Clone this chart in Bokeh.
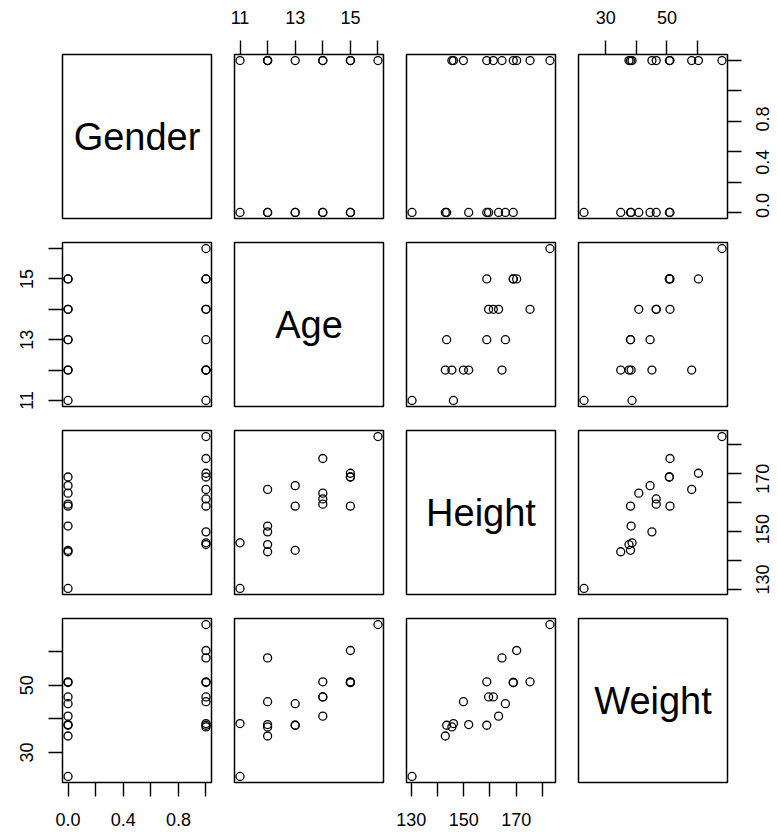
import math
from bokeh.plotting import figure
from bokeh.layouts import column, row
from bokeh.models import Range1d, LinearAxis, FixedTicker
from bokeh.core.properties import value
from bokeh.embed import file_html
from bokeh.resources import INLINE

# Class roster (19 pupils), metric units
gender = [1, 0, 0, 0, 1, 1, 0, 0, 1, 1, 0, 0, 0, 0, 1, 1, 1, 1, 1]
age = [14, 13, 13, 14, 14, 12, 12, 15, 13, 12, 11, 14, 12, 15, 16, 12, 15, 11, 15]
height = [175.3, 143.5, 165.9, 159.5, 161.3, 145.5, 151.9, 158.8, 158.8, 149.9,
          130.3, 163.3, 143.0, 168.9, 182.9, 164.6, 170.2, 146.1, 168.9]
weight = [51.0, 38.1, 44.5, 46.5, 46.5, 37.6, 38.3, 51.0, 38.1, 45.1,
          22.9, 40.8, 34.9, 50.8, 68.0, 58.1, 60.3, 38.6, 50.8]

var_names = ["Gender", "Age", "Height", "Weight"]
series = [gender, age, height, weight]

# Axis ticks and which of them carry a label
gender_ticks = [0.0, 0.2, 0.4, 0.6, 0.8, 1.0]
gender_labels = ["0.0", "", "0.4", "", "0.8", ""]
age_ticks = [11, 12, 13, 14, 15, 16]
age_labels = ["11", "", "13", "", "15", ""]
height_ticks = [130, 140, 150, 160, 170, 180]
height_labels = ["130", "", "150", "", "170", ""]
weight_ticks = [30, 40, 50, 60]
weight_labels = ["30", "", "50", ""]

tick_sets = [(gender_ticks, gender_labels), (age_ticks, age_labels),
             (height_ticks, height_labels), (weight_ticks, weight_labels)]

FONT = "Liberation Sans"
FRAME_W, FRAME_H = 149, 164
RIGHT_STRIP = 30


def padded_range(vals):
    lo, hi = min(vals), max(vals)
    pad = 0.04 * (hi - lo)
    return Range1d(lo - pad, hi + pad)


def make_axis(k, standoff, show_labels=True, orientation="horizontal"):
    ticks, labels = tick_sets[k]
    shown = labels if show_labels else [""] * len(labels)
    ax = LinearAxis(ticker=FixedTicker(ticks=ticks),
                    major_label_overrides={t: s for t, s in zip(ticks, shown)})
    ax.axis_line_color = None
    ax.major_tick_in = 0
    ax.major_tick_out = 14
    ax.major_tick_line_color = "black"
    ax.major_tick_line_width = 1.4
    ax.minor_tick_line_color = None
    ax.major_label_text_font = FONT
    ax.major_label_text_font_size = "18px" if show_labels else "0px"
    ax.major_label_text_color = "black"
    ax.major_label_standoff = standoff
    ax.major_label_orientation = orientation
    return ax


def bare_figure(width, height, xr, yr, ml, mr, mt, mb):
    p = figure(width=width, height=height, x_range=xr, y_range=yr,
               x_axis_location=None, y_axis_location=None,
               toolbar_location=None, output_backend="svg",
               min_border_left=ml, min_border_right=mr,
               min_border_top=mt, min_border_bottom=mb)
    p.grid.grid_line_color = None
    p.background_fill_color = "white"
    p.border_fill_color = "white"
    return p


rows = []
for i in range(4):
    panels = []
    mt = 54 if i == 0 else 12
    mb = 52 if i == 3 else 12
    row_h = mt + FRAME_H + mb
    for j in range(4):
        ml = 62 if j == 0 else 11
        mr = 20 if j == 3 else 12
        if i == j:
            xr, yr = Range1d(0, 1), Range1d(0, 1)
        else:
            xr, yr = padded_range(series[j]), padded_range(series[i])
        p = bare_figure(ml + FRAME_W + mr, row_h, xr, yr, ml, mr, mt, mb)
        p.outline_line_color = "black"
        p.outline_line_width = 1.5
        p.outline_line_alpha = 1.0

        if i == j:
            p.text(x=[0.5], y=[0.5], text=[var_names[i]],
                   text_font=value(FONT), text_font_size="38px",
                   text_align="center", text_baseline="middle",
                   text_color="black")
        else:
            p.scatter(x=series[j], y=series[i], marker="circle", size=8,
                      fill_color=None, line_color="black", line_width=1.3)

        # Alternating outer axes, as in a scatterplot matrix
        if i == 0 and j % 2 == 1:
            p.add_layout(make_axis(j, 17), "above")
        if i == 3 and j % 2 == 0:
            p.add_layout(make_axis(j, 16), "below")
        if j == 0 and i % 2 == 1:
            p.add_layout(make_axis(i, 15, orientation="vertical"), "left")
        if j == 3 and i % 2 == 0:
            p.add_layout(make_axis(i, 0, show_labels=False), "right")
        panels.append(p)

    # Narrow strip holding the right-hand tick labels; its y scale is the
    # row's scale stretched over the full strip height so nothing is clipped
    yr_row = panels[-1].y_range
    per_px = (yr_row.end - yr_row.start) / FRAME_H
    strip_yr = Range1d(yr_row.start - mb * per_px, yr_row.end + mt * per_px)
    strip = bare_figure(RIGHT_STRIP, row_h, Range1d(0, 1), strip_yr, 0, 0, 0, 0)
    strip.outline_line_color = None
    if i % 2 == 0:
        ticks, labels = tick_sets[i]
        lab_y = [t for t, s in zip(ticks, labels) if s]
        lab_t = [s for s in labels if s]
        strip.text(x=[0.5] * len(lab_y), y=lab_y, text=lab_t,
                   angle=math.pi / 2, text_font=value(FONT),
                   text_font_size="18px", text_align="center",
                   text_baseline="middle", text_color="black")
    panels.append(strip)
    rows.append(row(*panels))

layout = column(*rows)

with open("out.html", "w") as f:
    f.write(file_html(layout, INLINE))
